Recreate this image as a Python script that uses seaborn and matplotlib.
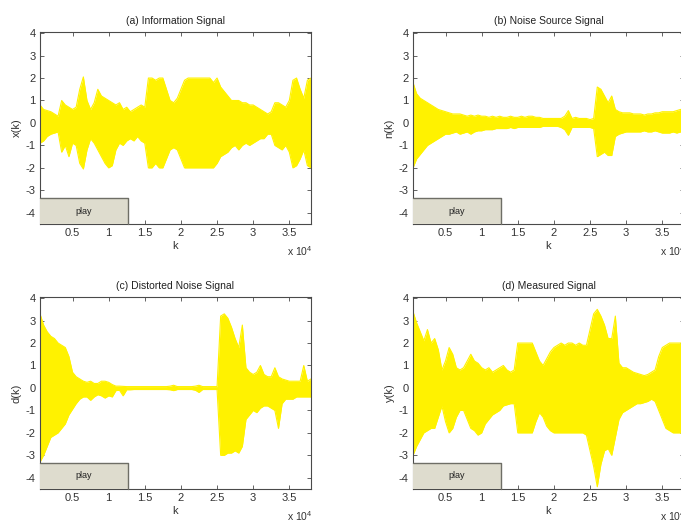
import numpy as np
import pandas as pd
import matplotlib
matplotlib.use("Agg")
import matplotlib.pyplot as plt
from matplotlib.patches import Rectangle
import seaborn as sns

sns.set_style("ticks")
plt.rcParams['font.family'] = ['Liberation Sans', 'DejaVu Sans']
plt.rcParams['mathtext.fontset'] = 'custom'
plt.rcParams['mathtext.rm'] = 'Liberation Sans'
plt.rcParams['mathtext.it'] = 'Liberation Sans'

# sample index k (envelope read every 500 samples)
k = np.arange(500, 38001, 500)

titles = ["(a) Information Signal", "(b) Noise Source Signal",
          "(c) Distorted Noise Signal", "(d) Measured Signal"]
ylabels = ["x(k)", "n(k)", "d(k)", "y(k)"]
xtick_vals = [5000, 10000, 15000, 20000, 25000, 30000, 35000]
xtick_labels = ["0.5", "1", "1.5", "2", "2.5", "3", "3.5"]
ytick_vals = [-4, -3, -2, -1, 0, 1, 2, 3, 4]

# (a) information signal envelope
a_upper = [0.8, 0.6, 0.55, 0.5, 0.4, 0.3, 1.0, 0.8, 0.7, 0.6,
           0.7, 1.5, 2.05, 1.0, 0.6, 0.9, 1.5, 1.2, 1.1, 1.0,
           0.9, 0.8, 0.9, 0.6, 0.7, 0.5, 0.6, 0.7, 0.8, 0.7,
           2.0, 2.0, 1.9, 2.0, 2.0, 1.5, 1.0, 0.9, 1.1, 1.5,
           1.9, 2.0, 2.0, 2.0, 2.0, 2.0, 2.0, 2.0, 1.8, 2.0,
           1.6, 1.4, 1.2, 1.0, 1.0, 1.0, 0.9, 0.9, 0.8, 0.8,
           0.7, 0.6, 0.5, 0.4, 0.5, 0.9, 0.9, 0.8, 0.7, 1.0,
           1.9, 2.0, 1.5, 1.1, 1.9, 2.0]
a_lower = [-0.9, -0.8, -0.6, -0.5, -0.45, -0.4, -1.3, -1.0, -1.5, -0.9,
           -1.0, -1.8, -2.05, -1.2, -0.7, -0.9, -1.2, -1.5, -1.8, -2.0,
           -1.9, -1.2, -0.9, -1.0, -0.8, -0.7, -0.8, -0.6, -0.8, -0.9,
           -2.0, -2.0, -1.8, -2.0, -2.0, -1.6, -1.2, -1.1, -1.2, -1.6,
           -2.0, -2.0, -2.0, -2.0, -2.0, -2.0, -2.0, -2.0, -2.0, -1.8,
           -1.5, -1.4, -1.3, -1.1, -1.0, -1.2, -1.0, -0.9, -1.0, -0.9,
           -0.8, -0.7, -0.7, -0.5, -0.5, -1.0, -1.1, -1.2, -1.0, -1.3,
           -2.0, -1.9, -1.6, -1.2, -1.9, -2.0]

# (b) noise source signal envelope
b_upper = [1.8, 1.3, 1.1, 1.0, 0.9, 0.8, 0.7, 0.6, 0.55, 0.5,
           0.45, 0.4, 0.4, 0.4, 0.35, 0.3, 0.35, 0.3, 0.35, 0.3,
           0.3, 0.25, 0.3, 0.25, 0.3, 0.25, 0.25, 0.3, 0.25, 0.25,
           0.3, 0.25, 0.3, 0.3, 0.25, 0.25, 0.2, 0.2, 0.2, 0.2,
           0.2, 0.2, 0.3, 0.55, 0.2, 0.25, 0.2, 0.2, 0.2, 0.15,
           0.2, 1.6, 1.5, 1.2, 0.9, 1.2, 0.6, 0.5, 0.45, 0.45,
           0.45, 0.4, 0.4, 0.4, 0.35, 0.4, 0.4, 0.45, 0.45, 0.5,
           0.5, 0.5, 0.5, 0.55, 0.6, 0.6]
b_lower = [-2.0, -1.6, -1.4, -1.2, -1.0, -0.9, -0.8, -0.7, -0.6, -0.5,
           -0.5, -0.45, -0.4, -0.5, -0.45, -0.4, -0.5, -0.4, -0.35, -0.35,
           -0.3, -0.3, -0.3, -0.25, -0.25, -0.25, -0.25, -0.2, -0.25, -0.2,
           -0.2, -0.2, -0.2, -0.2, -0.2, -0.2, -0.15, -0.15, -0.15, -0.15,
           -0.15, -0.2, -0.3, -0.55, -0.2, -0.2, -0.2, -0.2, -0.2, -0.2,
           -0.25, -1.5, -1.4, -1.3, -1.45, -1.45, -0.6, -0.5, -0.45, -0.4,
           -0.4, -0.4, -0.4, -0.4, -0.35, -0.4, -0.4, -0.35, -0.4, -0.45,
           -0.45, -0.45, -0.4, -0.45, -0.4, -0.45]

# (c) distorted noise signal envelope
c_upper = [3.3, 2.8, 2.5, 2.3, 2.2, 2.0, 1.9, 1.8, 1.4, 0.7,
           0.5, 0.4, 0.3, 0.25, 0.3, 0.2, 0.2, 0.3, 0.3, 0.25,
           0.15, 0.08, 0.08, 0.07, 0.06, 0.06, 0.06, 0.06, 0.06, 0.06,
           0.06, 0.06, 0.06, 0.06, 0.06, 0.06, 0.08, 0.12, 0.06, 0.06,
           0.06, 0.06, 0.06, 0.08, 0.12, 0.06, 0.06, 0.06, 0.06, 0.06,
           3.2, 3.3, 3.1, 2.7, 2.2, 1.8, 2.8, 0.9, 0.7, 0.6,
           0.7, 1.0, 0.6, 0.5, 0.5, 0.9, 0.5, 0.4, 0.35, 0.3,
           0.3, 0.3, 0.3, 1.0, 0.3, 0.4]
c_lower = [-3.3, -3.0, -2.6, -2.2, -2.1, -2.0, -1.8, -1.6, -1.2, -0.95,
           -0.7, -0.5, -0.4, -0.4, -0.55, -0.4, -0.3, -0.35, -0.45, -0.35,
           -0.4, -0.12, -0.1, -0.35, -0.08, -0.08, -0.07, -0.07, -0.07, -0.07,
           -0.07, -0.07, -0.07, -0.07, -0.07, -0.07, -0.08, -0.12, -0.07, -0.07,
           -0.07, -0.07, -0.07, -0.1, -0.2, -0.07, -0.07, -0.07, -0.07, -0.07,
           -3.0, -3.0, -2.9, -2.9, -2.8, -2.9, -2.6, -1.4, -1.2, -1.0,
           -1.1, -0.9, -0.8, -0.8, -0.9, -1.0, -1.8, -0.7, -0.5, -0.5,
           -0.5, -0.4, -0.4, -0.4, -0.4, -0.4]

# (d) measured signal envelope
d_upper = [3.4, 2.9, 2.5, 2.1, 2.6, 2.0, 2.2, 1.7, 0.8, 1.2,
           1.8, 1.5, 0.9, 0.8, 0.9, 1.2, 1.5, 1.2, 1.1, 0.9,
           0.8, 0.9, 0.7, 0.8, 0.9, 1.0, 0.8, 0.7, 0.8, 2.0,
           2.0, 2.0, 2.0, 2.0, 1.6, 1.2, 1.0, 1.3, 1.6, 1.8,
           1.9, 2.0, 1.9, 2.0, 2.0, 1.9, 2.0, 1.9, 1.9, 2.6,
           3.3, 3.5, 3.2, 2.8, 2.2, 2.2, 3.2, 1.1, 0.9, 0.9,
           0.8, 0.7, 0.65, 0.6, 0.55, 0.6, 0.7, 0.8, 1.4, 1.8,
           1.9, 2.0, 2.0, 2.0, 2.0, 2.0]
d_lower = [-3.0, -2.6, -2.3, -2.0, -1.9, -1.8, -1.8, -1.3, -0.8, -1.5,
           -2.0, -1.8, -1.3, -1.0, -1.0, -1.4, -1.8, -1.9, -2.1, -2.0,
           -1.6, -1.4, -1.2, -1.1, -1.0, -0.8, -0.75, -0.7, -0.7, -2.0,
           -2.0, -2.0, -2.0, -2.0, -1.5, -1.1, -1.3, -1.7, -1.9, -2.0,
           -2.0, -2.0, -2.0, -2.0, -2.0, -2.0, -2.0, -2.0, -2.1, -2.8,
           -3.5, -4.4, -3.4, -2.8, -2.7, -3.0, -2.2, -1.4, -1.1, -1.0,
           -0.9, -0.8, -0.7, -0.7, -0.65, -0.6, -0.5, -0.6, -1.0, -1.4,
           -1.8, -1.9, -2.0, -2.0, -2.0, -2.0]

uppers = [a_upper, b_upper, c_upper, d_upper]
lowers = [a_lower, b_lower, c_lower, d_lower]

W, H = 681, 523
fig = plt.figure(figsize=(W / 100, H / 100), dpi=100)
fig.patch.set_facecolor("white")

# axes boxes in pixels: (left, top, width, height)
boxes = [(40, 32, 271, 192), (413, 32, 271, 192),
         (40, 297, 271, 192), (413, 297, 271, 192)]

yellow = "#fff200"
spine_col = "#4a4a4a"

for i in range(4):
    l, t, w, h = boxes[i]
    ax = fig.add_axes([l / W, 1 - (t + h) / H, w / W, h / H])
    ax.set_facecolor("white")
    df = pd.DataFrame({
        "k": np.concatenate([k, k]),
        "value": np.concatenate([uppers[i], lowers[i]]),
        "edge": ["upper"] * len(k) + ["lower"] * len(k),
    })
    sns.lineplot(data=df, x="k", y="value", units="edge", estimator=None,
                 color=yellow, lw=0.8, ax=ax, legend=False, zorder=2)
    ax.fill_between(k, lowers[i], uppers[i], color=yellow, lw=0, zorder=2)

    ax.set_xlim(500, 38000)
    ax.set_ylim(-4.5, 4.05)
    ax.set_xticks(xtick_vals)
    ax.set_xticklabels(xtick_labels)
    ax.set_yticks(ytick_vals)
    ax.set_yticklabels([str(v) for v in ytick_vals])
    ax.tick_params(direction="in", length=3, width=0.6, colors=spine_col,
                   labelcolor="#333333", labelsize=8, top=True, right=True,
                   pad=3)
    for s in ax.spines.values():
        s.set_visible(True)
        s.set_color(spine_col)
        s.set_linewidth(0.8)
    ax.set_title(titles[i], fontsize=7.5, color="#222222", pad=6)
    ax.set_xlabel("k", fontsize=8, color="#333333", labelpad=2)
    ax.set_ylabel(ylabels[i], fontsize=8, color="#333333", labelpad=3)
    ax.text(247 / 271, -0.142, r"x 10$^{4}$", transform=ax.transAxes,
            fontsize=7.5, color="#333333", ha="left", va="center")

    # "play" button
    bw = 88 / 271
    bh = 26 / 192
    ax.add_patch(Rectangle((0, 0), bw, bh, transform=ax.transAxes,
                           facecolor="#dedcce", edgecolor="none",
                           zorder=5, clip_on=False))
    ax.plot([0, bw, bw], [bh, bh, 0], transform=ax.transAxes,
            color="#6e6e66", lw=1.0, zorder=6, clip_on=False)
    ax.text(bw / 2, bh / 2, "play", transform=ax.transAxes, fontsize=6.5,
            color="#222222", ha="center", va="center", zorder=7)

fig.savefig("out.png", dpi=100, facecolor="white")
